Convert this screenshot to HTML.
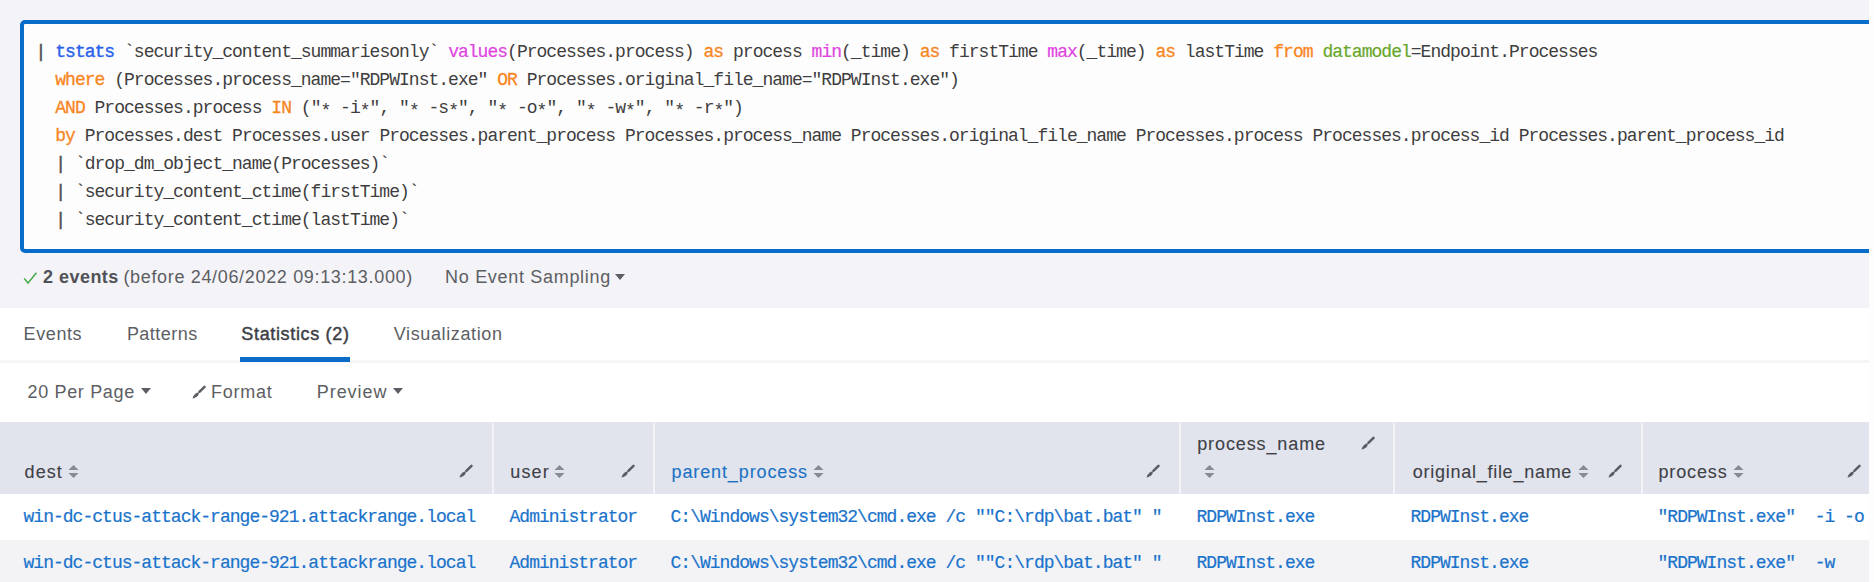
<!DOCTYPE html>
<html><head><meta charset="utf-8">
<style>
html,body{margin:0;padding:0;}
body{width:1874px;height:582px;overflow:hidden;background:#fdfdfe;position:relative;font-family:"Liberation Sans",sans-serif;}
.abs{position:absolute;white-space:pre;}
#top{position:absolute;left:0;top:0;width:1869px;height:308px;background:#f4f3f7;}
#white{position:absolute;left:0;top:308px;width:1869px;height:274px;background:#ffffff;}
#box{position:absolute;left:19.5px;top:20px;width:1920px;height:225px;border:4px solid #086cca;border-radius:5px;background:#fefdfe;}
#strip{position:absolute;left:1869px;top:0;width:5px;height:582px;background:#fdfdfd;}
.code{font-family:"Liberation Mono",monospace;font-size:18px;letter-spacing:-0.98px;color:#3e3e40;line-height:28px;}
.ast{position:relative;top:3px;}
.pp{color:#505052;-webkit-text-stroke:0.5px #505052;}
.cmd{color:#2a62ea;-webkit-text-stroke:0.4px #2a62ea;}
.fn{color:#e044e0;-webkit-text-stroke:0.2px #e044e0;}
.kw{color:#f7861f;-webkit-text-stroke:0.3px #f7861f;}
.dm{color:#68a82a;-webkit-text-stroke:0.2px #68a82a;}
.sans{font-family:"Liberation Sans",sans-serif;font-size:18px;color:#5c5e63;}
#thead{position:absolute;left:0;top:422px;width:1869px;height:72px;background:#e1e4ec;}
.sep{position:absolute;top:423px;width:2px;height:71px;background:#f2f3f7;}
#row2{position:absolute;left:0;top:540px;width:1869px;height:42px;background:#f3f3f6;}
.cell{font-family:"Liberation Mono",monospace;font-size:18px;letter-spacing:-0.98px;color:#1a73cb;-webkit-text-stroke:0.2px #1a73cb;}
.hd{font-family:"Liberation Sans",sans-serif;font-size:18px;color:#3e4046;-webkit-text-stroke:0.1px currentColor;}
</style></head><body>
<div id="top"></div>
<div id="white"></div>
<div id="box"></div>

<div class="abs code" style="left:35.6px;top:38px;"><span class="pp">|</span> <span class="cmd">tstats</span> `security_content_summariesonly` <span class="fn">values</span>(Processes.process) <span class="kw">as</span> process <span class="fn">min</span>(_time) <span class="kw">as</span> firstTime <span class="fn">max</span>(_time) <span class="kw">as</span> lastTime <span class="kw">from</span> <span class="dm">datamodel</span>=Endpoint.Processes
  <span class="kw">where</span> (Processes.process_name="RDPWInst.exe" <span class="kw">OR</span> Processes.original_file_name="RDPWInst.exe")
  <span class="kw">AND</span> Processes.process <span class="kw">IN</span> ("<span class="ast">*</span> -i<span class="ast">*</span>", "<span class="ast">*</span> -s<span class="ast">*</span>", "<span class="ast">*</span> -o<span class="ast">*</span>", "<span class="ast">*</span> -w<span class="ast">*</span>", "<span class="ast">*</span> -r<span class="ast">*</span>")
  <span class="kw">by</span> Processes.dest Processes.user Processes.parent_process Processes.process_name Processes.original_file_name Processes.process Processes.process_id Processes.parent_process_id
  <span class="pp">|</span> `drop_dm_object_name(Processes)`
  <span class="pp">|</span> `security_content_ctime(firstTime)`
  <span class="pp">|</span> `security_content_ctime(lastTime)`</div>

<!-- events row -->
<svg class="abs" style="left:23px;top:271px" width="15" height="14" viewBox="0 0 15 14"><path d="M1.2 7.6 L5 12 L13.5 1.8" fill="none" stroke="#4aab4a" stroke-width="1.5"/></svg>
<div class="abs sans" style="left:43.1px;top:265px;line-height:24px;color:#505257;font-weight:700;letter-spacing:0.457px">2 events</div>
<div class="abs sans" style="left:123.4px;top:265px;line-height:24px;letter-spacing:0.665px">(before 24/06/2022 09:13:13.000)</div>
<div class="abs sans" style="left:445.1px;top:265px;line-height:24px;letter-spacing:0.688px">No Event Sampling</div>
<svg class="abs" style="left:615px;top:274px" width="10" height="6" viewBox="0 0 10 6"><path d="M0 0 H10 L5 6 Z" fill="#5c5e63"/></svg>

<!-- tabs -->
<div class="abs sans" style="left:23.6px;top:322px;line-height:24px;letter-spacing:0.6px">Events</div>
<div class="abs sans" style="left:126.9px;top:322px;line-height:24px;letter-spacing:0.471px">Patterns</div>
<div class="abs sans" style="left:241.3px;top:322px;line-height:24px;color:#3e4046;letter-spacing:0.662px;-webkit-text-stroke:0.45px #3e4046">Statistics (2)</div>
<div class="abs sans" style="left:393.7px;top:322px;line-height:24px;letter-spacing:0.633px">Visualization</div>
<div class="abs" style="left:0;top:360px;width:1869px;height:3px;background:#f6f5f8;"></div>
<div class="abs" style="left:240px;top:357px;width:109.5px;height:4.6px;background:#0b6bc8;"></div>

<!-- toolbar -->
<div class="abs sans" style="left:27.5px;top:380px;line-height:24px;letter-spacing:0.66px">20 Per Page</div>
<svg class="abs" style="left:140.5px;top:387.5px" width="10" height="6" viewBox="0 0 10 6"><path d="M0 0 H10 L5 6 Z" fill="#5c5e63"/></svg>
<svg class="abs" style="left:191.5px;top:384.5px" width="14" height="14" viewBox="0 0 14 14"><path d="M12.5 1.8 L7.4 6.9" stroke="#5c5e63" stroke-width="2.5" stroke-linecap="round"/><path d="M5.8 7.5 L6.9 8.6 C6.5 10.9 3.8 13 0.6 13.5 C1 10.8 3.3 8 5.8 7.5 Z" fill="#5c5e63"/></svg>
<div class="abs sans" style="left:211.1px;top:380px;line-height:24px;letter-spacing:0.74px">Format</div>
<div class="abs sans" style="left:316.8px;top:380px;line-height:24px;letter-spacing:0.933px">Preview</div>
<svg class="abs" style="left:392.5px;top:387.5px" width="10" height="6" viewBox="0 0 10 6"><path d="M0 0 H10 L5 6 Z" fill="#5c5e63"/></svg>

<!-- table -->
<div id="thead"></div>
<div class="sep" style="left:492px"></div>
<div class="sep" style="left:653px"></div>
<div class="sep" style="left:1179px"></div>
<div class="sep" style="left:1393px"></div>
<div class="sep" style="left:1641px"></div>
<div id="row2"></div>


<!-- header labels -->
<div class="abs hd" style="left:24.6px;top:460px;line-height:24px;letter-spacing:1.033px">dest</div>
<svg class="abs sort" style="left:68px;top:465px" width="11" height="13" viewBox="0 0 11 13"><path d="M5.5 0 L10.5 5 H0.5 Z M5.5 13 L10.5 8 H0.5 Z" fill="#878a91"/></svg>
<svg class="abs" style="left:459px;top:464px" width="14" height="14" viewBox="0 0 14 14"><path d="M12.5 1.8 L7.4 6.9" stroke="#5a5d64" stroke-width="2.5" stroke-linecap="round"/><path d="M5.8 7.5 L6.9 8.6 C6.5 10.9 3.8 13 0.6 13.5 C1 10.8 3.3 8 5.8 7.5 Z" fill="#5a5d64"/></svg>

<div class="abs hd" style="left:510.3px;top:460px;line-height:24px;letter-spacing:1.133px">user</div>
<svg class="abs sort" style="left:554px;top:465px" width="11" height="13" viewBox="0 0 11 13"><path d="M5.5 0 L10.5 5 H0.5 Z M5.5 13 L10.5 8 H0.5 Z" fill="#878a91"/></svg>
<svg class="abs" style="left:621px;top:464px" width="14" height="14" viewBox="0 0 14 14"><path d="M12.5 1.8 L7.4 6.9" stroke="#5a5d64" stroke-width="2.5" stroke-linecap="round"/><path d="M5.8 7.5 L6.9 8.6 C6.5 10.9 3.8 13 0.6 13.5 C1 10.8 3.3 8 5.8 7.5 Z" fill="#5a5d64"/></svg>

<div class="abs hd" style="left:671.5px;top:460px;line-height:24px;color:#1a72c6;letter-spacing:0.885px">parent_process</div>
<svg class="abs sort" style="left:813px;top:465px" width="11" height="13" viewBox="0 0 11 13"><path d="M5.5 0 L10.5 5 H0.5 Z M5.5 13 L10.5 8 H0.5 Z" fill="#878a91"/></svg>
<svg class="abs" style="left:1146px;top:464px" width="14" height="14" viewBox="0 0 14 14"><path d="M12.5 1.8 L7.4 6.9" stroke="#5a5d64" stroke-width="2.5" stroke-linecap="round"/><path d="M5.8 7.5 L6.9 8.6 C6.5 10.9 3.8 13 0.6 13.5 C1 10.8 3.3 8 5.8 7.5 Z" fill="#5a5d64"/></svg>

<div class="abs hd" style="left:1197.2px;top:432px;line-height:24px;letter-spacing:0.891px">process_name</div>
<svg class="abs sort" style="left:1204px;top:465px" width="11" height="13" viewBox="0 0 11 13"><path d="M5.5 0 L10.5 5 H0.5 Z M5.5 13 L10.5 8 H0.5 Z" fill="#878a91"/></svg>
<svg class="abs" style="left:1361px;top:436px" width="14" height="14" viewBox="0 0 14 14"><path d="M12.5 1.8 L7.4 6.9" stroke="#5a5d64" stroke-width="2.5" stroke-linecap="round"/><path d="M5.8 7.5 L6.9 8.6 C6.5 10.9 3.8 13 0.6 13.5 C1 10.8 3.3 8 5.8 7.5 Z" fill="#5a5d64"/></svg>

<div class="abs hd" style="left:1412.7px;top:460px;line-height:24px;letter-spacing:0.741px">original_file_name</div>
<svg class="abs sort" style="left:1578px;top:465px" width="11" height="13" viewBox="0 0 11 13"><path d="M5.5 0 L10.5 5 H0.5 Z M5.5 13 L10.5 8 H0.5 Z" fill="#878a91"/></svg>
<svg class="abs" style="left:1608px;top:464px" width="14" height="14" viewBox="0 0 14 14"><path d="M12.5 1.8 L7.4 6.9" stroke="#5a5d64" stroke-width="2.5" stroke-linecap="round"/><path d="M5.8 7.5 L6.9 8.6 C6.5 10.9 3.8 13 0.6 13.5 C1 10.8 3.3 8 5.8 7.5 Z" fill="#5a5d64"/></svg>

<div class="abs hd" style="left:1658.4px;top:460px;line-height:24px;letter-spacing:0.883px">process</div>
<svg class="abs sort" style="left:1733px;top:465px" width="11" height="13" viewBox="0 0 11 13"><path d="M5.5 0 L10.5 5 H0.5 Z M5.5 13 L10.5 8 H0.5 Z" fill="#878a91"/></svg>
<svg class="abs" style="left:1847px;top:464px" width="14" height="14" viewBox="0 0 14 14"><path d="M12.5 1.8 L7.4 6.9" stroke="#5a5d64" stroke-width="2.5" stroke-linecap="round"/><path d="M5.8 7.5 L6.9 8.6 C6.5 10.9 3.8 13 0.6 13.5 C1 10.8 3.3 8 5.8 7.5 Z" fill="#5a5d64"/></svg>

<!-- rows -->
<div class="abs cell" style="left:23.5px;top:505px;line-height:24px;">win-dc-ctus-attack-range-921.attackrange.local</div>
<div class="abs cell" style="left:509.5px;top:505px;line-height:24px;">Administrator</div>
<div class="abs cell" style="left:670.5px;top:505px;line-height:24px;">C:\Windows\system32\cmd.exe /c ""C:\rdp\bat.bat" "</div>
<div class="abs cell" style="left:1196.5px;top:505px;line-height:24px;">RDPWInst.exe</div>
<div class="abs cell" style="left:1410.5px;top:505px;line-height:24px;">RDPWInst.exe</div>
<div class="abs cell" style="left:1657.5px;top:505px;line-height:24px;">"RDPWInst.exe"  -i -o</div>

<div class="abs cell" style="left:23.5px;top:551px;line-height:24px;">win-dc-ctus-attack-range-921.attackrange.local</div>
<div class="abs cell" style="left:509.5px;top:551px;line-height:24px;">Administrator</div>
<div class="abs cell" style="left:670.5px;top:551px;line-height:24px;">C:\Windows\system32\cmd.exe /c ""C:\rdp\bat.bat" "</div>
<div class="abs cell" style="left:1196.5px;top:551px;line-height:24px;">RDPWInst.exe</div>
<div class="abs cell" style="left:1410.5px;top:551px;line-height:24px;">RDPWInst.exe</div>
<div class="abs cell" style="left:1657.5px;top:551px;line-height:24px;">"RDPWInst.exe"  -w</div>

<div id="strip"></div>
</body></html>
